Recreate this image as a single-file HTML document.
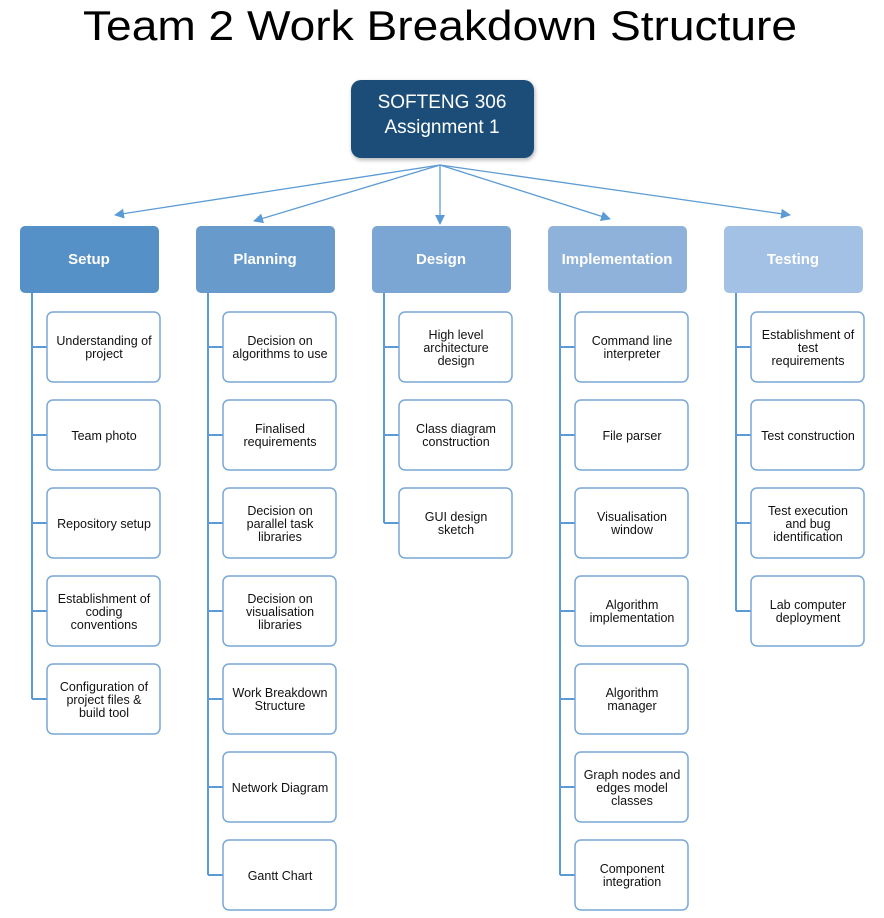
<!DOCTYPE html>
<html><head><meta charset="utf-8"><style>
html,body{margin:0;padding:0;background:#fff;}
svg{display:block;}
text{font-family:"Liberation Sans","DejaVu Sans",sans-serif;}
.c{font-size:12.5px;fill:#111;text-anchor:middle;}
.h{font-size:15px;font-weight:bold;fill:#fff;text-anchor:middle;}
</style></head><body>
<svg width="884" height="918" viewBox="0 0 884 918" xmlns="http://www.w3.org/2000/svg">
<defs><marker id="a" markerWidth="10" markerHeight="10" refX="9" refY="5" orient="auto" markerUnits="userSpaceOnUse"><path d="M0,0 L10,5 L0,10 z" fill="#5b9bd5"/></marker>
<filter id="s" x="-10%" y="-10%" width="130%" height="130%"><feDropShadow dx="1" dy="2" stdDeviation="2" flood-opacity="0.3"/></filter></defs>
<text x="440" y="40" font-size="42" text-anchor="middle" textLength="714" lengthAdjust="spacingAndGlyphs" fill="#000">Team 2 Work Breakdown Structure</text>
<rect x="351" y="80" width="183" height="78" rx="10" fill="#1f4e79" filter="url(#s)"/>
<text x="442" y="108" font-size="19" fill="#fff" text-anchor="middle">SOFTENG 306</text>
<text x="442" y="133" font-size="19" fill="#fff" text-anchor="middle">Assignment 1</text>
<g stroke="#5b9bd5" stroke-width="1.3" fill="none">
<line x1="440" y1="165" x2="115" y2="215" marker-end="url(#a)"/>
<line x1="440" y1="165" x2="254" y2="221" marker-end="url(#a)"/>
<line x1="440" y1="165" x2="440" y2="224" marker-end="url(#a)"/>
<line x1="440" y1="165" x2="610" y2="219" marker-end="url(#a)"/>
<line x1="440" y1="165" x2="790" y2="215" marker-end="url(#a)"/>
</g>
<!-- headers -->
<rect x="20" y="226" width="139" height="67" rx="5" fill="#5590c6"/><text class="h" x="89" y="264">Setup</text>
<rect x="196" y="226" width="139" height="67" rx="5" fill="#689bcc"/><text class="h" x="265" y="264">Planning</text>
<rect x="372" y="226" width="139" height="67" rx="5" fill="#7ba6d3"/><text class="h" x="441" y="264">Design</text>
<rect x="548" y="226" width="139" height="67" rx="5" fill="#8fb2db"/><text class="h" x="617" y="264">Implementation</text>
<rect x="724" y="226" width="139" height="67" rx="5" fill="#a3c1e4"/><text class="h" x="793" y="264">Testing</text>
<!-- trunks -->
<g stroke="#5b9bd5" stroke-width="2" fill="none">
<path d="M32,293 V699 M32,347 H47 M32,435 H47 M32,523 H47 M32,611 H47 M32,699 H47"/>
<path d="M208,293 V875 M208,347 H223 M208,435 H223 M208,523 H223 M208,611 H223 M208,699 H223 M208,787 H223 M208,875 H223"/>
<path d="M384,293 V523 M384,347 H399 M384,435 H399 M384,523 H399"/>
<path d="M560,293 V875 M560,347 H575 M560,435 H575 M560,523 H575 M560,611 H575 M560,699 H575 M560,787 H575 M560,875 H575"/>
<path d="M736,293 V611 M736,347 H751 M736,435 H751 M736,523 H751 M736,611 H751"/>
</g>
<g fill="#fff" stroke="#7aa7d9" stroke-width="1.5">
<rect x="47" y="312" width="113" height="70" rx="6"/><rect x="47" y="400" width="113" height="70" rx="6"/><rect x="47" y="488" width="113" height="70" rx="6"/><rect x="47" y="576" width="113" height="70" rx="6"/><rect x="47" y="664" width="113" height="70" rx="6"/>
<rect x="223" y="312" width="113" height="70" rx="6"/><rect x="223" y="400" width="113" height="70" rx="6"/><rect x="223" y="488" width="113" height="70" rx="6"/><rect x="223" y="576" width="113" height="70" rx="6"/><rect x="223" y="664" width="113" height="70" rx="6"/><rect x="223" y="752" width="113" height="70" rx="6"/><rect x="223" y="840" width="113" height="70" rx="6"/>
<rect x="399" y="312" width="113" height="70" rx="6"/><rect x="399" y="400" width="113" height="70" rx="6"/><rect x="399" y="488" width="113" height="70" rx="6"/>
<rect x="575" y="312" width="113" height="70" rx="6"/><rect x="575" y="400" width="113" height="70" rx="6"/><rect x="575" y="488" width="113" height="70" rx="6"/><rect x="575" y="576" width="113" height="70" rx="6"/><rect x="575" y="664" width="113" height="70" rx="6"/><rect x="575" y="752" width="113" height="70" rx="6"/><rect x="575" y="840" width="113" height="70" rx="6"/>
<rect x="751" y="312" width="113" height="70" rx="6"/><rect x="751" y="400" width="113" height="70" rx="6"/><rect x="751" y="488" width="113" height="70" rx="6"/><rect x="751" y="576" width="113" height="70" rx="6"/>
</g>
<g class="c">
<text class="c" x="104" y="345">Understanding of</text><text class="c" x="104" y="358">project</text>
<text class="c" x="104" y="440">Team photo</text>
<text class="c" x="104" y="528">Repository setup</text>
<text class="c" x="104" y="603">Establishment of</text><text class="c" x="104" y="616">coding</text><text class="c" x="104" y="629">conventions</text>
<text class="c" x="104" y="691">Configuration of</text><text class="c" x="104" y="704">project files &amp;</text><text class="c" x="104" y="717">build tool</text>

<text class="c" x="280" y="345">Decision on</text><text class="c" x="280" y="358">algorithms to use</text>
<text class="c" x="280" y="433">Finalised</text><text class="c" x="280" y="446">requirements</text>
<text class="c" x="280" y="515">Decision on</text><text class="c" x="280" y="528">parallel task</text><text class="c" x="280" y="541">libraries</text>
<text class="c" x="280" y="603">Decision on</text><text class="c" x="280" y="616">visualisation</text><text class="c" x="280" y="629">libraries</text>
<text class="c" x="280" y="697">Work Breakdown</text><text class="c" x="280" y="710">Structure</text>
<text class="c" x="280" y="792">Network Diagram</text>
<text class="c" x="280" y="880">Gantt Chart</text>

<text class="c" x="456" y="339">High level</text><text class="c" x="456" y="352">architecture</text><text class="c" x="456" y="365">design</text>
<text class="c" x="456" y="433">Class diagram</text><text class="c" x="456" y="446">construction</text>
<text class="c" x="456" y="521">GUI design</text><text class="c" x="456" y="534">sketch</text>

<text class="c" x="632" y="345">Command line</text><text class="c" x="632" y="358">interpreter</text>
<text class="c" x="632" y="440">File parser</text>
<text class="c" x="632" y="521">Visualisation</text><text class="c" x="632" y="534">window</text>
<text class="c" x="632" y="609">Algorithm</text><text class="c" x="632" y="622">implementation</text>
<text class="c" x="632" y="697">Algorithm</text><text class="c" x="632" y="710">manager</text>
<text class="c" x="632" y="779">Graph nodes and</text><text class="c" x="632" y="792">edges model</text><text class="c" x="632" y="805">classes</text>
<text class="c" x="632" y="873">Component</text><text class="c" x="632" y="886">integration</text>

<text class="c" x="808" y="339">Establishment of</text><text class="c" x="808" y="352">test</text><text class="c" x="808" y="365">requirements</text>
<text class="c" x="808" y="440">Test construction</text>
<text class="c" x="808" y="515">Test execution</text><text class="c" x="808" y="528">and bug</text><text class="c" x="808" y="541">identification</text>
<text class="c" x="808" y="609">Lab computer</text><text class="c" x="808" y="622">deployment</text>
</g>
</svg>
</body></html>
